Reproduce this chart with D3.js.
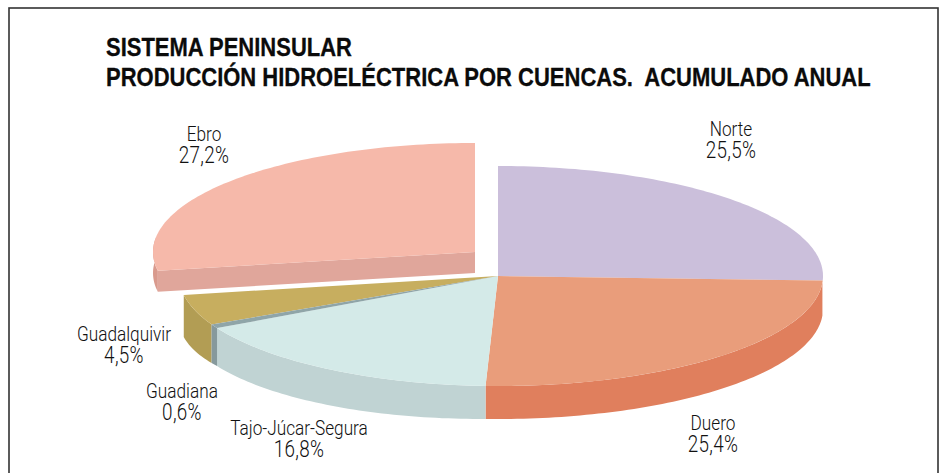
<!DOCTYPE html>
<html>
<head>
<meta charset="utf-8">
<script src="https://d3js.org/d3.v7.min.js"></script>
<style>
  html, body { margin: 0; padding: 0; background: #fff; overflow: hidden; }
  svg { display: block; }
  .title { font-family: "Liberation Sans", sans-serif; font-weight: bold; font-size: 26.5px; fill: #0b0b0b; stroke: #0b0b0b; stroke-width: 0.3; white-space: pre; }
  .label { font-family: Roboto, "Liberation Sans", sans-serif; font-weight: 300; font-size: 21px; fill: #111; text-anchor: middle; }
  .label .pct { font-size: 23px; letter-spacing: 0.4px; }
</style>
</head>
<body>
<script>
var titleLines = ["SISTEMA PENINSULAR", "PRODUCCIÓN HIDROELÉCTRICA POR CUENCAS.  ACUMULADO ANUAL"];
var categories = ["Norte", "Duero", "Tajo-Júcar-Segura", "Guadiana", "Guadalquivir", "Ebro"];
var values = [25.5, 25.4, 16.8, 0.6, 4.5, 27.2];
var topColors = ["#cbbfdb", "#e99d7b", "#d4eae8", "#8fa5a8", "#c7ae5f", "#f6b9aa"];
var sideColors = ["#b5a9c6", "#e07f5d", "#c0d3d3", "#86999c", "#b29d54", "#e0a69b"];

// where each label sits, same order as categories
var labelX = [731, 713, 299, 182, 124, 204];
var labelY = [136, 430, 435, 398, 341, 141];

var w = 942;
var h = 473;
var center = {x: 498, y: 276, rxLeft: 319, ry: 110};
var ebroCenter = {x: 475, y: 252, rxLeft: 322, ry: 109};

var svg = d3.select('body').append('svg')
            .attr('width', w)
            .attr('height', h);

svg.append('rect')
   .attr('x', 9).attr('y', 8)
   .attr('width', 929).attr('height', 480)
   .attr('fill', '#fff')
   .attr('stroke', '#333')
   .attr('stroke-width', 1.6);

// no condensed font here, so the text is squeezed sideways
svg.selectAll('.title')
   .data(titleLines)
   .enter().append('text')
   .classed('title', true)
   .attr('transform', function(d, i){ return 'translate(106,' + (55.5 + i * 30.5) + ') scale(0.83,1)'; })
   .text(function(d){ return d; });

var pie = d3.pie().value(function(d){ return d; }).sort(null);
var arcs = pie(values);

// the picture is slightly warped by its perspective, so angles are nudged
var warp = d3.scaleLinear()
             .domain([0, 92, 183, 244, 262, 360].map(function(d){ return d * Math.PI / 180; }))
             .range([0, 92.6, 182, 242, 260, 360].map(function(d){ return d * Math.PI / 180; }));

// x radius is wider on the right of the pie than on the left
function project(a, c){
  var t = warp(a);
  var s = Math.sin(t);
  var rx = s >= 0 ? 325 : c.rxLeft;
  return [c.x + rx * s, c.y - c.ry * Math.cos(t)];
}

// side wall gets deeper towards the left of the main pie
var depthAt = d3.scaleLinear().domain([184, 216, 487, 823]).range([42, 38, 33, 33]).clamp(true);

var line = d3.line();

function rimAngles(a0, a1){
  var n = Math.max(2, Math.ceil((a1 - a0) / 0.02));
  return d3.range(n + 1).map(function(i){ return a0 + (a1 - a0) * i / n; });
}

function topPath(d, c){
  var pts = rimAngles(d.startAngle, d.endAngle).map(function(a){ return project(a, c); });
  return line([[c.x, c.y]].concat(pts)) + 'Z';
}

function sidePath(a0, a1, c, depthFn){
  var rim = rimAngles(a0, a1).map(function(a){ return project(a, c); });
  var low = rim.map(function(p){ return [p[0], p[1] + depthFn(p[0])]; }).reverse();
  return line(rim.concat(low)) + 'Z';
}

var chart = svg.append('g').classed('pie', true);

// Ebro is pulled out, it goes first so it stays behind
var ebro = arcs[5];
var ebroDepth = function(){ return 21; };
var ebroEdge = project(ebro.startAngle, ebroCenter);

chart.append('path')
     .attr('d', line([[ebroCenter.x, ebroCenter.y], ebroEdge,
                      [ebroEdge[0], ebroEdge[1] + 21], [ebroCenter.x, ebroCenter.y + 21]]) + 'Z')
     .attr('fill', sideColors[5]);
chart.append('path')
     .attr('d', sidePath(ebro.startAngle, ebro.startAngle + 0.3, ebroCenter, ebroDepth))
     .attr('fill', '#d99a8d');
chart.append('path')
     .attr('d', topPath(ebro, ebroCenter))
     .attr('fill', topColors[5]);

// the rest, back to front: right side first, then leftwards
var order = [0, 1, 2, 4, 3];
order.forEach(function(i){
  var d = arcs[i];
  if (i !== 0) {
    var a0 = i === 1 ? Math.PI / 2 + 0.05 : d.startAngle;
    chart.append('path')
         .attr('d', sidePath(a0, d.endAngle, center, depthAt))
         .attr('fill', sideColors[i]);
  }
  chart.append('path')
       .attr('d', topPath(d, center))
       .attr('fill', topColors[i]);
});

// labels, name and percentage as two lines of one text
var fmt = d3.formatLocale({decimal: ",", thousands: ".", grouping: [3], currency: ["", ""]}).format(".1f");
var labels = svg.selectAll('.label')
   .data(categories)
   .enter().append('text')
   .classed('label', true)
   .attr('transform', function(d, i){ return 'translate(' + labelX[i] + ',' + labelY[i] + ') scale(0.82,1)'; });

labels.append('tspan').attr('x', 0).text(function(d){ return d; });
labels.append('tspan').classed('pct', true).attr('x', 0).attr('dy', 21.5)
      .text(function(d, i){ return fmt(values[i]) + '%'; });
</script>
</body>
</html>
